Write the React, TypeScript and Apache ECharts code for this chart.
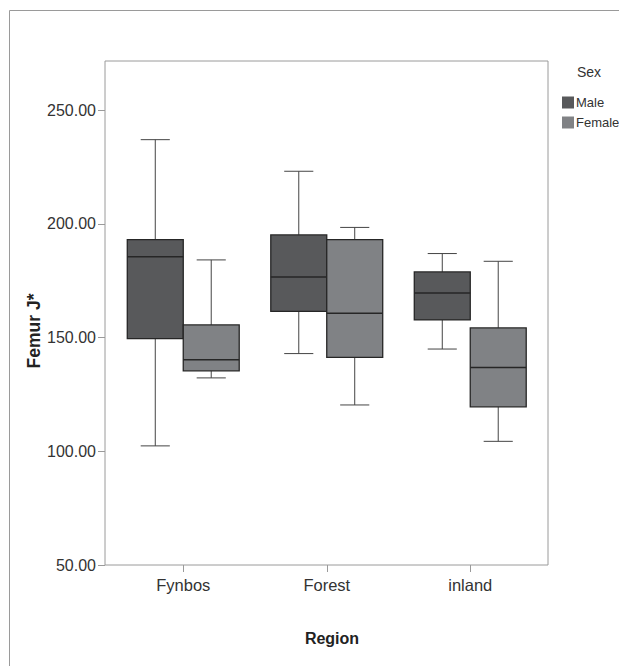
import React, { useEffect, useRef } from "react";
import * as echarts from "echarts";

const categories = ["Fynbos", "Forest", "inland"];
const seriesNames = ["Male", "Female"];
// [min, Q1, median, Q3, max]
const maleStats = [
  [102.4, 149.6, 185.6, 193.1, 237.1],
  [143.0, 161.6, 176.7, 195.2, 223.2],
  [145.0, 157.8, 169.7, 178.9, 187.0],
];
const femaleStats = [
  [132.3, 135.4, 140.3, 155.6, 184.2],
  [120.4, 141.3, 160.7, 193.1, 198.5],
  [104.4, 119.6, 136.9, 154.3, 183.6],
];
const yTicks = [50, 100, 150, 200, 250];
const yMin = 50;
const yMax = 271.7;

const FONT = "'Liberation Sans', Arial, Helvetica, sans-serif";

function makeRender(side: number) {
  return (params: any, api: any) => {
    const idx = api.value(0);
    const band = api.size([1, 0])[0];
    const pMin = api.coord([idx, api.value(1)]);
    const pQ1 = api.coord([idx, api.value(2)]);
    const pMed = api.coord([idx, api.value(3)]);
    const pQ3 = api.coord([idx, api.value(4)]);
    const pMax = api.coord([idx, api.value(5)]);
    const cx = pMed[0];
    const boxW = band * 0.39;
    const left = side < 0 ? cx - boxW : cx;
    const mid = left + boxW / 2;
    const capW = boxW * 0.52;
    const fill = api.visual("color");
    const lineStyle = { stroke: "#444", lineWidth: 1 };
    return {
      type: "group",
      children: [
        { type: "line", shape: { x1: mid, y1: pMax[1], x2: mid, y2: pQ3[1] }, style: lineStyle },
        { type: "line", shape: { x1: mid, y1: pQ1[1], x2: mid, y2: pMin[1] }, style: lineStyle },
        { type: "line", shape: { x1: mid - capW / 2, y1: pMax[1], x2: mid + capW / 2, y2: pMax[1] }, style: lineStyle },
        { type: "line", shape: { x1: mid - capW / 2, y1: pMin[1], x2: mid + capW / 2, y2: pMin[1] }, style: lineStyle },
        {
          type: "rect",
          shape: { x: left, y: pQ3[1], width: boxW, height: pQ1[1] - pQ3[1] },
          style: { fill, stroke: "#262626", lineWidth: 1.3 },
        },
        { type: "line", shape: { x1: left, y1: pMed[1], x2: left + boxW, y2: pMed[1] }, style: { stroke: "#262626", lineWidth: 1.5 } },
      ],
    };
  };
}

export default function App() {
  const ref = useRef<HTMLDivElement>(null);
  useEffect(() => {
    document.body.style.margin = "0";
    if (!ref.current) return;
    const chart = echarts.init(ref.current, undefined, { renderer: "svg" });
    const toData = (stats: number[][]) => stats.map((s, i) => [i, ...s]);
    chart.setOption({
      animation: false,
      backgroundColor: "#ffffff",
      textStyle: { fontFamily: FONT },
      grid: [
        { left: 105, top: 61, width: 443, height: 504, show: true, borderColor: "#9a9a9a", borderWidth: 1, backgroundColor: "transparent" },
        { left: 111.5, top: 61, width: 430.5, height: 504 },
      ],
      xAxis: [
        { gridIndex: 0, type: "value", min: 0, max: 1, show: false },
        {
          gridIndex: 1,
          type: "category",
          data: categories,
          axisLine: { show: false },
          axisTick: { show: true, alignWithLabel: true, length: 7, lineStyle: { color: "#9a9a9a" } },
          axisLabel: { fontSize: 16.5, color: "#333", margin: 11, fontFamily: FONT },
          splitLine: { show: false },
        },
      ],
      yAxis: [
        {
          gridIndex: 0,
          type: "value",
          min: yMin,
          max: yMax,
          interval: 50,
          axisLine: { show: false },
          axisTick: { show: true, length: 7, lineStyle: { color: "#9a9a9a" }, customValues: yTicks },
          axisLabel: {
            fontSize: 16,
            color: "#333",
            margin: 9,
            fontFamily: FONT,
            customValues: yTicks,
            formatter: (v: number) => v.toFixed(2),
          },
          splitLine: { show: false },
        },
        { gridIndex: 1, type: "value", min: yMin, max: yMax, show: false },
      ],
      legend: {
        orient: "vertical",
        left: 557,
        top: 91,
        icon: "rect",
        itemWidth: 12,
        itemHeight: 12,
        itemGap: 7,
        data: seriesNames,
        textStyle: { fontSize: 13, color: "#333", fontFamily: FONT, padding: [0, 0, 0, -3] },
      },
      graphic: [
        {
          type: "rect",
          silent: true,
          z: -1,
          shape: { x: 9.5, y: 10.5, width: 700, height: 700 },
          style: { fill: "none", stroke: "#9a9a9a", lineWidth: 1 },
        },
        {
          type: "text",
          left: 577,
          top: 65,
          style: { text: "Sex", fontSize: 14, fill: "#333", fontFamily: FONT },
        },
        {
          type: "text",
          x: 332,
          y: 638,
          style: { text: "Region", fontSize: 16, fontWeight: "bold", fill: "#222", fontFamily: FONT, align: "center", verticalAlign: "middle" },
        },
        {
          type: "text",
          x: 34,
          y: 331,
          rotation: Math.PI / 2,
          style: { text: "Femur J*", fontSize: 17.5, fontWeight: "bold", fill: "#222", fontFamily: FONT, align: "center", verticalAlign: "middle" },
        },
      ],
      series: [
        {
          name: seriesNames[0],
          type: "custom",
          xAxisIndex: 1,
          yAxisIndex: 1,
          itemStyle: { color: "#58595b" },
          encode: { x: 0, y: [1, 2, 3, 4, 5] },
          renderItem: makeRender(-1),
          data: toData(maleStats),
        },
        {
          name: seriesNames[1],
          type: "custom",
          xAxisIndex: 1,
          yAxisIndex: 1,
          itemStyle: { color: "#808285" },
          encode: { x: 0, y: [1, 2, 3, 4, 5] },
          renderItem: makeRender(1),
          data: toData(femaleStats),
        },
      ],
    });
    return () => chart.dispose();
  }, []);
  return <div ref={ref} style={{ width: 619, height: 666 }} />;
}
